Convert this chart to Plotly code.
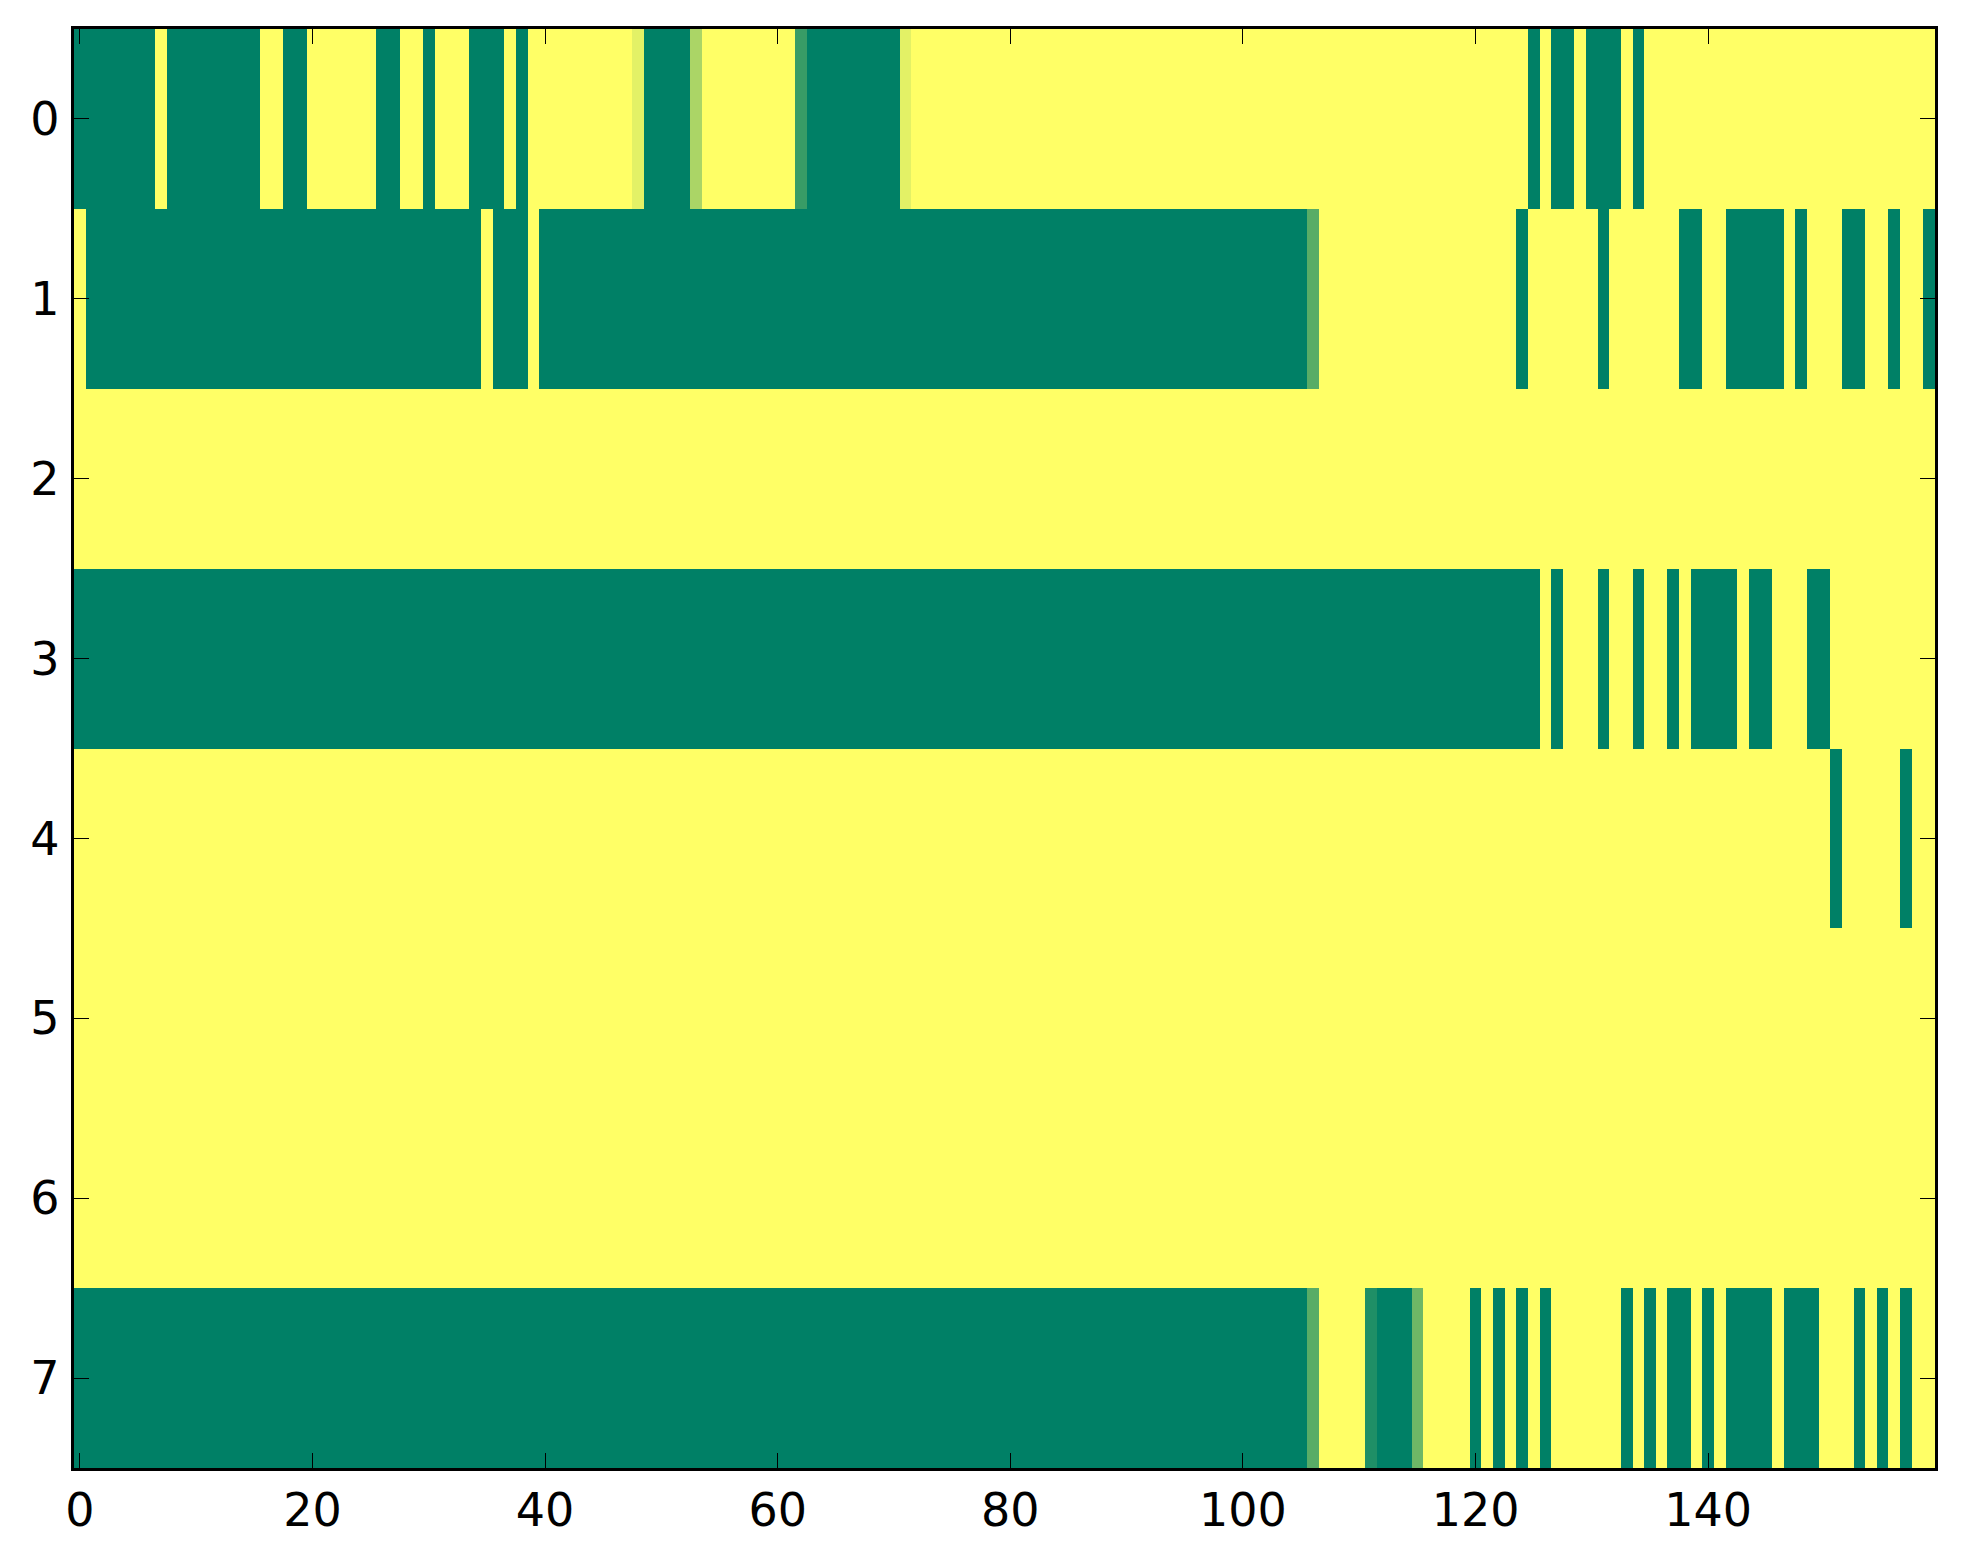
import plotly.graph_objects as go

# Column indices 0..159 and row labels 0..7
columns = list(range(160))
rows = list(range(8))

row0 = [0, 0, 0, 0, 0, 0, 0, 1, 0, 0, 0, 0, 0, 0, 0, 0, 1, 1, 0, 0,
        1, 1, 1, 1, 1, 1, 0, 0, 1, 1, 0, 1, 1, 1, 0, 0, 0, 1, 0, 1,
        1, 1, 1, 1, 1, 1, 1, 1, 0.89, 0, 0, 0, 0, 0.67, 1, 1, 1, 1, 1, 1,
        1, 1, 0.22, 0, 0, 0, 0, 0, 0, 0, 0, 0.89, 1, 1, 1, 1, 1, 1, 1, 1,
        1, 1, 1, 1, 1, 1, 1, 1, 1, 1, 1, 1, 1, 1, 1, 1, 1, 1, 1, 1,
        1, 1, 1, 1, 1, 1, 1, 1, 1, 1, 1, 1, 1, 1, 1, 1, 1, 1, 1, 1,
        1, 1, 1, 1, 1, 0, 1, 0, 0, 1, 0, 0, 0, 1, 0, 1, 1, 1, 1, 1,
        1, 1, 1, 1, 1, 1, 1, 1, 1, 1, 1, 1, 1, 1, 1, 1, 1, 1, 1, 1]

row1 = [1, 0, 0, 0, 0, 0, 0, 0, 0, 0, 0, 0, 0, 0, 0, 0, 0, 0, 0, 0,
        0, 0, 0, 0, 0, 0, 0, 0, 0, 0, 0, 0, 0, 0, 0, 1, 0, 0, 0, 1,
        0, 0, 0, 0, 0, 0, 0, 0, 0, 0, 0, 0, 0, 0, 0, 0, 0, 0, 0, 0,
        0, 0, 0, 0, 0, 0, 0, 0, 0, 0, 0, 0, 0, 0, 0, 0, 0, 0, 0, 0,
        0, 0, 0, 0, 0, 0, 0, 0, 0, 0, 0, 0, 0, 0, 0, 0, 0, 0, 0, 0,
        0, 0, 0, 0, 0, 0, 0.35, 1, 1, 1, 1, 1, 1, 1, 1, 1, 1, 1, 1, 1,
        1, 1, 1, 1, 0, 1, 1, 1, 1, 1, 1, 0, 1, 1, 1, 1, 1, 1, 0, 0,
        1, 1, 0, 0, 0, 0, 0, 1, 0, 1, 1, 1, 0, 0, 1, 1, 0, 1, 1, 0]

row2 = [1, 1, 1, 1, 1, 1, 1, 1, 1, 1, 1, 1, 1, 1, 1, 1, 1, 1, 1, 1,
        1, 1, 1, 1, 1, 1, 1, 1, 1, 1, 1, 1, 1, 1, 1, 1, 1, 1, 1, 1,
        1, 1, 1, 1, 1, 1, 1, 1, 1, 1, 1, 1, 1, 1, 1, 1, 1, 1, 1, 1,
        1, 1, 1, 1, 1, 1, 1, 1, 1, 1, 1, 1, 1, 1, 1, 1, 1, 1, 1, 1,
        1, 1, 1, 1, 1, 1, 1, 1, 1, 1, 1, 1, 1, 1, 1, 1, 1, 1, 1, 1,
        1, 1, 1, 1, 1, 1, 1, 1, 1, 1, 1, 1, 1, 1, 1, 1, 1, 1, 1, 1,
        1, 1, 1, 1, 1, 1, 1, 1, 1, 1, 1, 1, 1, 1, 1, 1, 1, 1, 1, 1,
        1, 1, 1, 1, 1, 1, 1, 1, 1, 1, 1, 1, 1, 1, 1, 1, 1, 1, 1, 1]

row3 = [0, 0, 0, 0, 0, 0, 0, 0, 0, 0, 0, 0, 0, 0, 0, 0, 0, 0, 0, 0,
        0, 0, 0, 0, 0, 0, 0, 0, 0, 0, 0, 0, 0, 0, 0, 0, 0, 0, 0, 0,
        0, 0, 0, 0, 0, 0, 0, 0, 0, 0, 0, 0, 0, 0, 0, 0, 0, 0, 0, 0,
        0, 0, 0, 0, 0, 0, 0, 0, 0, 0, 0, 0, 0, 0, 0, 0, 0, 0, 0, 0,
        0, 0, 0, 0, 0, 0, 0, 0, 0, 0, 0, 0, 0, 0, 0, 0, 0, 0, 0, 0,
        0, 0, 0, 0, 0, 0, 0, 0, 0, 0, 0, 0, 0, 0, 0, 0, 0, 0, 0, 0,
        0, 0, 0, 0, 0, 0, 1, 0, 1, 1, 1, 0, 1, 1, 0, 1, 1, 0, 1, 0,
        0, 0, 0, 1, 0, 0, 1, 1, 1, 0, 0, 1, 1, 1, 1, 1, 1, 1, 1, 1]

row4 = [1, 1, 1, 1, 1, 1, 1, 1, 1, 1, 1, 1, 1, 1, 1, 1, 1, 1, 1, 1,
        1, 1, 1, 1, 1, 1, 1, 1, 1, 1, 1, 1, 1, 1, 1, 1, 1, 1, 1, 1,
        1, 1, 1, 1, 1, 1, 1, 1, 1, 1, 1, 1, 1, 1, 1, 1, 1, 1, 1, 1,
        1, 1, 1, 1, 1, 1, 1, 1, 1, 1, 1, 1, 1, 1, 1, 1, 1, 1, 1, 1,
        1, 1, 1, 1, 1, 1, 1, 1, 1, 1, 1, 1, 1, 1, 1, 1, 1, 1, 1, 1,
        1, 1, 1, 1, 1, 1, 1, 1, 1, 1, 1, 1, 1, 1, 1, 1, 1, 1, 1, 1,
        1, 1, 1, 1, 1, 1, 1, 1, 1, 1, 1, 1, 1, 1, 1, 1, 1, 1, 1, 1,
        1, 1, 1, 1, 1, 1, 1, 1, 1, 1, 1, 0, 1, 1, 1, 1, 1, 0, 1, 1]

row5 = [1, 1, 1, 1, 1, 1, 1, 1, 1, 1, 1, 1, 1, 1, 1, 1, 1, 1, 1, 1,
        1, 1, 1, 1, 1, 1, 1, 1, 1, 1, 1, 1, 1, 1, 1, 1, 1, 1, 1, 1,
        1, 1, 1, 1, 1, 1, 1, 1, 1, 1, 1, 1, 1, 1, 1, 1, 1, 1, 1, 1,
        1, 1, 1, 1, 1, 1, 1, 1, 1, 1, 1, 1, 1, 1, 1, 1, 1, 1, 1, 1,
        1, 1, 1, 1, 1, 1, 1, 1, 1, 1, 1, 1, 1, 1, 1, 1, 1, 1, 1, 1,
        1, 1, 1, 1, 1, 1, 1, 1, 1, 1, 1, 1, 1, 1, 1, 1, 1, 1, 1, 1,
        1, 1, 1, 1, 1, 1, 1, 1, 1, 1, 1, 1, 1, 1, 1, 1, 1, 1, 1, 1,
        1, 1, 1, 1, 1, 1, 1, 1, 1, 1, 1, 1, 1, 1, 1, 1, 1, 1, 1, 1]

row6 = [1, 1, 1, 1, 1, 1, 1, 1, 1, 1, 1, 1, 1, 1, 1, 1, 1, 1, 1, 1,
        1, 1, 1, 1, 1, 1, 1, 1, 1, 1, 1, 1, 1, 1, 1, 1, 1, 1, 1, 1,
        1, 1, 1, 1, 1, 1, 1, 1, 1, 1, 1, 1, 1, 1, 1, 1, 1, 1, 1, 1,
        1, 1, 1, 1, 1, 1, 1, 1, 1, 1, 1, 1, 1, 1, 1, 1, 1, 1, 1, 1,
        1, 1, 1, 1, 1, 1, 1, 1, 1, 1, 1, 1, 1, 1, 1, 1, 1, 1, 1, 1,
        1, 1, 1, 1, 1, 1, 1, 1, 1, 1, 1, 1, 1, 1, 1, 1, 1, 1, 1, 1,
        1, 1, 1, 1, 1, 1, 1, 1, 1, 1, 1, 1, 1, 1, 1, 1, 1, 1, 1, 1,
        1, 1, 1, 1, 1, 1, 1, 1, 1, 1, 1, 1, 1, 1, 1, 1, 1, 1, 1, 1]

row7 = [0, 0, 0, 0, 0, 0, 0, 0, 0, 0, 0, 0, 0, 0, 0, 0, 0, 0, 0, 0,
        0, 0, 0, 0, 0, 0, 0, 0, 0, 0, 0, 0, 0, 0, 0, 0, 0, 0, 0, 0,
        0, 0, 0, 0, 0, 0, 0, 0, 0, 0, 0, 0, 0, 0, 0, 0, 0, 0, 0, 0,
        0, 0, 0, 0, 0, 0, 0, 0, 0, 0, 0, 0, 0, 0, 0, 0, 0, 0, 0, 0,
        0, 0, 0, 0, 0, 0, 0, 0, 0, 0, 0, 0, 0, 0, 0, 0, 0, 0, 0, 0,
        0, 0, 0, 0, 0, 0, 0.35, 1, 1, 1, 1, 0.12, 0, 0, 0, 0.43, 1, 1, 1, 1,
        0, 1, 0, 1, 0, 1, 0, 1, 1, 1, 1, 1, 1, 0, 1, 0, 1, 0, 0, 1,
        0, 1, 0, 0, 0, 0, 1, 0, 0, 0, 1, 1, 1, 0, 1, 0, 1, 0, 1, 1]

x_tick_values = [0, 20, 40, 60, 80, 100, 120, 140]
y_tick_values = [0, 1, 2, 3, 4, 5, 6, 7]

z = [row0, row1, row2, row3, row4, row5, row6, row7]

# matplotlib "summer" colormap
summer = [[0.0, "rgb(0,128,102)"], [1.0, "rgb(255,255,102)"]]

fig = go.Figure(
    go.Heatmap(
        z=z, x=columns, y=rows,
        colorscale=summer, zmin=0, zmax=1,
        showscale=False, hoverinfo="x+y+z",
    )
)

axis_common = dict(
    showline=True, linecolor="black", linewidth=3.3,
    mirror="allticks", ticks="inside", ticklen=15, tickwidth=1.4,
    tickcolor="black", showgrid=False, zeroline=False,
    tickfont=dict(family="DejaVu Sans", size=46, color="black"),
)

fig.update_xaxes(range=[-0.5, 159.5], tickvals=x_tick_values,
                 ticklabelstandoff=0, **axis_common)
fig.update_yaxes(range=[7.5, -0.5], tickvals=y_tick_values,
                 ticklabelstandoff=2, **axis_common)

# page body has an 8px default margin; compensate so the plot lands in place
fig.update_layout(
    width=1947, height=1548,
    margin=dict(l=66, r=20, t=21, b=88),
    paper_bgcolor="white", plot_bgcolor="white",
)

fig.write_html("out.html")
